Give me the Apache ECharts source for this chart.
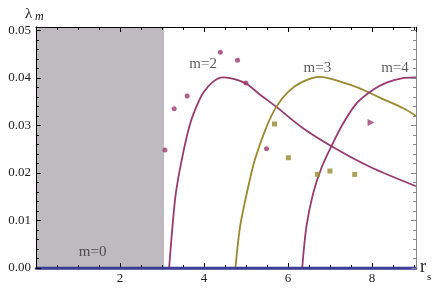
<!DOCTYPE html>
<html><head><meta charset="utf-8">
<script src="https://cdn.jsdelivr.net/npm/echarts@6/dist/echarts.min.js"></script>
<style>html,body{margin:0;padding:0;background:#fff}#c{width:436px;height:288px}</style>
</head><body><div id="c"></div>
<script>
// ---- data ----
const xTicks = [2, 4, 6, 8];
const yTicks = [0.00, 0.01, 0.02, 0.03, 0.04, 0.05];
const stableZone = [0, 3.05];
const m0Line = [[0, 0], [9.05, 0]];
const m2Curve = [[3.17,0],[3.25,0.0087],[3.33,0.0157],[3.47,0.0227],[3.65,0.0297],[3.79,0.0333],[3.98,0.0368],[4.22,0.0392],[4.46,0.0401],[4.75,0.0397],[5.02,0.0387],[5.33,0.0365],[5.71,0.034],[6.36,0.0294],[7.08,0.0254],[7.95,0.0213],[9.05,0.0172]];
const m3Curve = [[4.75,0],[4.86,0.0087],[5.02,0.0157],[5.21,0.0227],[5.49,0.0297],[5.73,0.034],[6.01,0.0371],[6.33,0.0391],[6.76,0.0402],[7.32,0.039],[7.71,0.0378],[8.2,0.0358],[8.75,0.0336],[9.05,0.032]];
const m4Curve = [[6.34,0],[6.44,0.0087],[6.6,0.0157],[6.8,0.0211],[7.04,0.0257],[7.32,0.0305],[7.64,0.0347],[8.03,0.0375],[8.35,0.039],[8.71,0.0399],[9.05,0.0401]];
const m2Points = [[3.07,0.0248],[3.29,0.0335],[3.60,0.0362],[4.39,0.0454],[4.80,0.0437],[5.00,0.0389],[5.49,0.0251]];
const m3Points = [[5.68,0.0303],[6.01,0.0232],[6.70,0.0197],[7.00,0.0204],[7.59,0.0197]];
const m4Points = [[7.98,0.0306]];
const labelText = ['m=2', 'm=3', 'm=4', 'm=0'];
const labelPos = [[3.98, 0.0429], [6.7, 0.0420], [8.55, 0.0420], [1.35, 0.0034]];

const PURPLE = '#993a6e', OLIVE = '#998a30', BLUE = '#3d3d99', GRAY = '#bdbbbd';
const FONT = 'Liberation Serif';
const XMAX = 9.05, YMAX = 0.0507;
// frame axes (top / right) start a hair above zero so they stay on their own side
const EPS_X = 1e-9, EPS_Y = 1e-12;

const chart = echarts.init(document.getElementById('c'));
const near = (v, arr, eps) => arr.some(t => Math.abs(t - v) < eps);
function xAxisCfg(pos, labels, z, lineCol, lineW, mn) {
  return {type:'value', min:mn, max:XMAX, interval:2, position:pos, z:z,
    axisLine:{show:true, lineStyle:{color:lineCol, width:lineW}},
    axisTick:{show:true, inside:true, length:5, lineStyle:{color:'#000'}},
    minorTick:{show:true, splitNumber:4, length:3, lineStyle:{color:'#000'}},
    splitLine:{show:false},
    axisLabel: labels ? {show:true, margin:4, fontFamily:FONT, fontSize:13, color:'#222',
      formatter:v => near(v, xTicks, 1e-6) ? String(v) : ''} : {show:false}};
}
function yAxisCfg(pos, labels, col, z, mn) {
  return {type:'value', min:mn, max:YMAX, interval:0.01, position:pos, z:z,
    axisLine:{show:true, lineStyle:{color:col}},
    axisTick:{show:true, inside:true, length:5, lineStyle:{color:col}},
    minorTick:{show:true, splitNumber:5, length:3, lineStyle:{color:col}},
    splitLine:{show:false},
    axisLabel: labels ? {show:true, margin:5, fontFamily:FONT, fontSize:13, color:'#222',
      formatter:v => near(v, yTicks, 1e-7) ? v.toFixed(2) : ''} : {show:false}};
}
const option = {
  animation:false,
  grid:{left:36, right:20, top:27, bottom:20},
  xAxis:[xAxisCfg('bottom', true, 2, BLUE, 2.5, 0), xAxisCfg('top', false, 10, '#000', 1, EPS_X)],
  yAxis:[yAxisCfg('left', true, '#000', 10, 0), yAxisCfg('right', false, '#888', 10, EPS_Y)],
  series:[
    {type:'line', data:[], z:1, silent:true,
      markArea:{silent:true, itemStyle:{color:GRAY, opacity:1},
        data:[[{xAxis:stableZone[0], yAxis:0},{xAxis:stableZone[1], yAxis:YMAX}]]}},
    {type:'line', data:m2Curve, smooth:0.3, symbol:'none', lineStyle:{color:PURPLE, width:1.8}, z:3},
    {type:'line', data:m3Curve, smooth:0.3, symbol:'none', lineStyle:{color:OLIVE, width:1.8}, z:3},
    {type:'line', data:m4Curve, smooth:0.3, symbol:'none', lineStyle:{color:PURPLE, width:1.8}, z:3},
    {type:'line', data:m0Line, symbol:'none', lineStyle:{color:BLUE, width:2.5}, z:4},
    {type:'scatter', data:m2Points, symbol:'circle', symbolSize:5, itemStyle:{color:PURPLE}, z:5},
    {type:'scatter', data:m3Points, symbol:'rect', symbolSize:5, itemStyle:{color:OLIVE}, z:5},
    {type:'scatter', data:m4Points, symbol:'triangle', symbolSize:7, symbolRotate:-90, itemStyle:{color:PURPLE}, z:5},
    {type:'scatter', data:labelPos.map((p, i) => ({value:p, name:labelText[i]})), symbolSize:0, silent:true, z:6,
      label:{show:true, position:'inside', formatter:p => p.name, fontFamily:FONT, fontSize:15, color:'#333'}}
  ],
  graphic:[
    {type:'text', left:44, top:36, style:{text:'Stable zone', font:'italic 13px "Liberation Serif"', fill:'#333'}},
    {type:'text', left:25, top:7, style:{text:'λ', font:'15px "Liberation Serif"', fill:'#222'}},
    {type:'text', left:35, top:11, style:{text:'m', font:'italic 12px "Liberation Serif"', fill:'#222'}},
    {type:'text', left:420, top:258, style:{text:'r', font:'18px "Liberation Serif"', fill:'#222'}},
    {type:'text', left:427, top:272, style:{text:'s', font:'11px "Liberation Serif"', fill:'#222'}}
  ]
};
chart.setOption(option);
</script>
</body></html>
